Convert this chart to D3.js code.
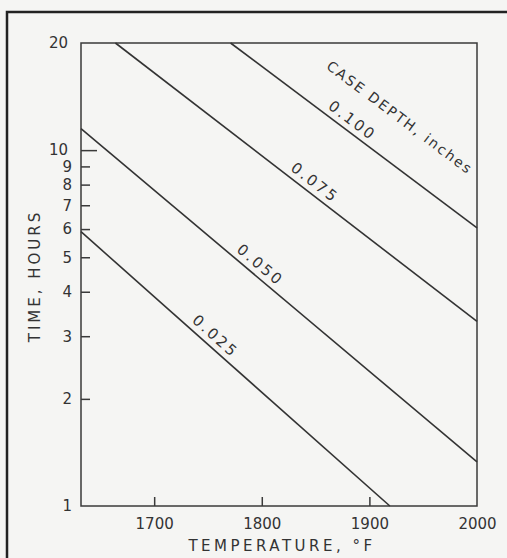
<!DOCTYPE html>
<html>
<head>
<meta charset="utf-8">
<script src="https://cdn.jsdelivr.net/npm/d3@7"></script>
<style>
  body { margin: 0; background: #f5f5f3; }
  svg { display: block; }
  text { font-family: "DejaVu Sans", sans-serif; fill: #333; }
</style>
</head>
<body>
<svg id="chart"></svg>
<script>
var width = 507;
var height = 558;

var depths = ["0.025", "0.050", "0.075", "0.100"];
var startTemps = [1632, 1632, 1664, 1771];
var startHours = [5.9, 11.5, 20, 20];
var endTemps = [1919, 2000, 2000, 2000];
var endHours = [1, 1.33, 3.3, 6.05];
var labelTemps = [1750, 1792, 1843, 1878];

var xTicks = [1700, 1800, 1900, 2000];
var yTicks = [1, 2, 3, 4, 5, 6, 7, 8, 9, 10, 20];

var svg = d3.select("#chart").attr("width", width).attr("height", height);

svg.append("rect").attr("width", width).attr("height", height).attr("fill", "#f5f5f3");

// outer frame (only top and left show in the picture)
svg.append("path")
  .attr("d", "M7,558V12H507")
  .attr("fill", "none").attr("stroke", "#222").attr("stroke-width", 2.5);

var x = d3.scaleLinear().domain([1632, 2000]).range([81, 477]);
var y = d3.scaleLog().domain([1, 20]).range([506, 43]);

// plot box
svg.append("rect")
  .attr("x", x.range()[0]).attr("y", y.range()[1])
  .attr("width", x.range()[1] - x.range()[0])
  .attr("height", y.range()[0] - y.range()[1])
  .attr("fill", "none").attr("stroke", "#3a3a3a").attr("stroke-width", 1.5);

var xAxis = svg.append("g")
  .attr("transform", "translate(0," + y.range()[0] + ")")
  .call(d3.axisBottom(x).tickValues(xTicks).tickSize(-9).tickPadding(18).tickFormat(d3.format("d")));

var yAxis = svg.append("g")
  .attr("transform", "translate(" + x.range()[0] + ",0)")
  .call(d3.axisLeft(y).tickValues(yTicks).tickSize(-9).tickPadding(9).tickFormat(d3.format("d")));

[xAxis, yAxis].forEach(function(ax) {
  ax.select(".domain").remove();
  ax.selectAll("line").attr("stroke", "#3a3a3a").attr("stroke-width", 1.5);
  ax.selectAll("text").attr("font-size", 15).style("fill", "#333");
});
xAxis.selectAll("text").attr("dy", "0.35em");
xAxis.selectAll(".tick").filter(function(d) { return d == 2000; }).select("line").remove();
yAxis.selectAll(".tick").filter(function(d) { return d == 1 || d == 20; }).select("line").remove();
yAxis.selectAll(".tick").filter(function(d) { return d == 10; }).select("line").attr("x2", 16);
yAxis.selectAll(".tick").filter(function(d) { return d == 10 || d == 20; }).select("text").attr("x", -13);

// axis titles
svg.append("text")
  .attr("x", 282).attr("y", 551)
  .attr("text-anchor", "middle")
  .attr("font-size", 15).attr("letter-spacing", 3.5)
  .text("TEMPERATURE, °F");

svg.append("text")
  .attr("transform", "translate(40,276) rotate(-90)")
  .attr("text-anchor", "middle")
  .attr("font-size", 15).attr("letter-spacing", 3)
  .text("TIME, HOURS");

// curves
var curves = depths.map(function(d, i) {
  return {
    depth: d,
    pts: [[startTemps[i], startHours[i]], [endTemps[i], endHours[i]]],
    labelT: labelTemps[i]
  };
});

var line = d3.line()
  .x(function(p) { return x(p[0]); })
  .y(function(p) { return y(p[1]); });

svg.append("g").selectAll("path").data(curves).enter().append("path")
  .attr("d", function(c) { return line(c.pts); })
  .attr("fill", "none").attr("stroke", "#333").attr("stroke-width", 1.6);

function pointAt(c, t) {
  var a = c.pts[0], b = c.pts[1];
  var f = (t - a[0]) / (b[0] - a[0]);
  var h = a[1] * Math.pow(b[1] / a[1], f);
  return [x(t), y(h)];
}
function angleOf(c) {
  var a = c.pts[0], b = c.pts[1];
  return Math.atan2(y(b[1]) - y(a[1]), x(b[0]) - x(a[0])) * 180 / Math.PI;
}

svg.append("g").selectAll("text").data(curves).enter().append("text")
  .attr("transform", function(c) {
    var p = pointAt(c, c.labelT);
    return "translate(" + p[0] + "," + p[1] + ") rotate(" + angleOf(c) + ")";
  })
  .attr("y", -6)
  .attr("text-anchor", "middle")
  .attr("font-size", 15).attr("letter-spacing", 2.5)
  .text(function(c) { return c.depth; });

// legend title along the 0.100 curve
var topCurve = curves[3];
var lp = pointAt(topCurve, 1905);
svg.append("text")
  .attr("transform", "translate(" + lp[0] + "," + lp[1] + ") rotate(" + angleOf(topCurve) + ")")
  .attr("y", -37)
  .attr("text-anchor", "middle")
  .attr("font-size", 14).attr("letter-spacing", 2)
  .text("CASE DEPTH, inches");
</script>
</body>
</html>
